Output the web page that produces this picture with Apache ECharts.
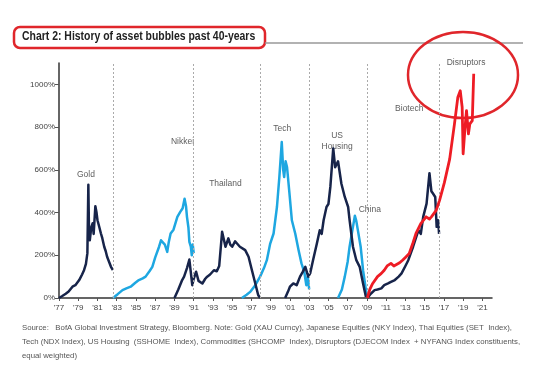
<!DOCTYPE html>
<html>
<head>
<meta charset="utf-8">
<script src="https://cdn.jsdelivr.net/npm/echarts@6/dist/echarts.min.js"></script>
<style>
  html, body { margin: 0; padding: 0; background: #fff; }
  #chart { width: 542px; height: 376px; }
</style>
</head>
<body>
<div id="chart"></div>
<script>
// [year, % gain]
const gold = [[1977.0,0],[1977.3,8],[1977.7,20],[1978.0,30],[1978.4,53],[1978.7,60],[1979.1,84],[1979.4,110],[1979.6,130],[1979.8,160],[1979.95,210],[1980.05,530],[1980.12,300],[1980.2,270],[1980.35,330],[1980.5,350],[1980.6,300],[1980.78,430],[1980.9,400],[1981.0,364],[1981.2,330],[1981.35,303],[1981.5,280],[1981.7,240],[1981.85,220],[1982.0,193],[1982.2,170],[1982.4,146],[1982.6,131]]
const nikkei = [[1982.6,0],[1983.1,18],[1983.6,37],[1984.0,45],[1984.45,53],[1984.9,70],[1985.3,84],[1985.7,92],[1986.0,100],[1986.4,125],[1986.7,146],[1987.0,190],[1987.4,240],[1987.6,270],[1987.8,279],[1988.0,250],[1988.25,216],[1988.4,260],[1988.6,302],[1988.9,320],[1989.3,380],[1989.6,403],[1989.85,420],[1990.05,465],[1990.2,430],[1990.3,380],[1990.45,330],[1990.55,263],[1990.7,240],[1990.8,200],[1990.9,250],[1991.0,210]]
const thailand = [[1989.0,0],[1989.4,40],[1989.8,84],[1990.0,100],[1990.3,140],[1990.55,180],[1990.7,120],[1990.85,60],[1991.0,90],[1991.25,123],[1991.5,80],[1991.9,68],[1992.2,90],[1992.4,100],[1992.7,110],[1993.1,130],[1993.4,125],[1993.65,150],[1993.95,310],[1994.15,270],[1994.3,240],[1994.6,279],[1994.8,250],[1995.0,240],[1995.3,265],[1995.5,255],[1995.8,240],[1996.0,232],[1996.35,224],[1996.7,193],[1997.05,130],[1997.4,68],[1997.7,14],[1997.9,0]]
const tech = [[1996.0,0],[1996.5,15],[1996.9,30],[1997.4,60],[1997.9,100],[1998.3,140],[1998.6,177],[1998.95,255],[1999.3,302],[1999.65,426],[1999.9,566],[2000.15,730],[2000.3,600],[2000.4,566],[2000.55,640],[2000.7,612],[2000.95,490],[2001.2,364],[2001.55,302],[2001.9,224],[2002.2,162],[2002.5,120],[2002.7,60],[2002.85,100],[2003.0,40]]
const usHousing = [[2000.5,0],[2000.8,30],[2001.0,53],[2001.35,68],[2001.7,60],[2002.05,100],[2002.3,120],[2002.6,146],[2002.9,100],[2003.1,115],[2003.4,177],[2003.8,255],[2004.1,317],[2004.3,300],[2004.5,364],[2004.8,426],[2005.0,440],[2005.2,520],[2005.5,700],[2005.7,612],[2006.0,640],[2006.35,535],[2006.7,473],[2007.05,426],[2007.2,364],[2007.55,240],[2007.9,177],[2008.25,146],[2008.6,68],[2008.9,5]]
const china = [[2006.0,0],[2006.4,40],[2006.7,100],[2007.0,170],[2007.2,240],[2007.5,320],[2007.75,385],[2007.9,360],[2008.1,364],[2008.35,240],[2008.6,130],[2008.9,37],[2009.0,15]]
const biotech = [[2009.05,0],[2009.4,20],[2009.8,37],[2010.1,40],[2010.5,45],[2010.8,60],[2011.2,68],[2011.5,75],[2011.9,84],[2012.3,100],[2012.6,115],[2013.0,150],[2013.3,177],[2013.8,240],[2014.35,317],[2014.6,300],[2014.85,380],[2015.2,442],[2015.5,584],[2015.7,500],[2015.85,490],[2016.1,473],[2016.25,333],[2016.4,364],[2016.5,300]]
const disruptors = [[2009.05,0],[2009.3,40],[2009.6,68],[2010.1,100],[2010.5,115],[2010.8,130],[2011.1,150],[2011.5,162],[2011.8,150],[2012.0,146],[2012.4,165],[2012.7,177],[2013.0,190],[2013.4,208],[2013.8,260],[2014.1,302],[2014.6,348],[2015.15,380],[2015.5,370],[2015.7,380],[2016.2,410],[2016.55,457],[2017.05,540],[2017.6,650],[2018.1,815],[2018.45,940],[2018.7,970],[2018.9,893],[2019.0,675],[2019.2,800],[2019.35,877],[2019.55,768],[2019.7,815],[2019.95,830],[2020.1,1050]]

// vertical dotted separators (years)
const dividers = [1982.6, 1991.0, 1997.9, 2003.0, 2009.0, 2016.5]

// axis ticks
const xTickYears = [1977,1979,1981,1983,1985,1987,1989,1991,1993,1995,1997,1999,2001,2003,2005,2007,2009,2011,2013,2015,2017,2019,2021]
const yTicks = [0, 200, 400, 600, 800, 1000]

// bubble names placed at [year, %]
const notes = [['Gold',1979.8,579],['Nikkei',1989.84,733],['Thailand',1994.3,537],['Tech',2000.2,793],['US\nHousing',2005.9,733],['China',2009.3,415],['Biotech',2013.4,887],['Disruptors',2019.3,1101]]

const NAVY = '#17244a'
const LIGHT = '#1ea7e1'
const RED = '#ee1c25'

const chart = echarts.init(document.getElementById('chart'))

const line = (name, data, color, width, z) => ({
  name,
  type: 'line',
  data,
  symbol: 'none',
  z,
  lineStyle: { color, width, join: 'round' },
  itemStyle: { color },
})

chart.setOption({
  animation: false,
  backgroundColor: '#fff',
  textStyle: { fontFamily: 'Liberation Sans, Arial, sans-serif' },
  grid: { left: 59, right: 50, top: 63, bottom: 78 },
  xAxis: {
    type: 'value',
    min: 1977,
    max: 2022,
    axisLine: { lineStyle: { color: '#333', width: 1.5 } },
    axisTick: { customValues: xTickYears, length: 3, lineStyle: { color: '#555' } },
    axisLabel: {
      customValues: xTickYears,
      color: '#444',
      fontSize: 8,
      margin: 6,
      formatter: v => "'" + String(v % 100).padStart(2, '0'),
    },
    splitLine: { show: false },
  },
  yAxis: {
    type: 'value',
    min: 0,
    max: 1100,
    axisLine: { show: true, lineStyle: { color: '#333', width: 1.5 } },
    axisTick: { show: true, customValues: yTicks, length: 4, lineStyle: { color: '#555' } },
    axisLabel: { customValues: yTicks, color: '#444', fontSize: 8, margin: 4, formatter: v => v + '%' },
    splitLine: { show: false },
  },
  series: [
    {
      type: 'line',
      data: [],
      markLine: {
        silent: true,
        symbol: 'none',
        label: { show: false },
        lineStyle: { color: '#aaa', type: [2, 2], width: 1 },
        data: dividers.map(y => ({ xAxis: y })),
      },
    },
    line('Gold', gold, NAVY, 2.5, 3),
    line('Nikkei', nikkei, LIGHT, 2.5, 3),
    line('Thailand', thailand, NAVY, 2.5, 4),
    line('Tech', tech, LIGHT, 2.5, 3),
    line('US Housing', usHousing, NAVY, 2.5, 4),
    line('China', china, LIGHT, 2.5, 3),
    line('Biotech', biotech, NAVY, 2.5, 4),
    line('Disruptors', disruptors, RED, 2.8, 5),
    {
      type: 'scatter',
      symbolSize: 0,
      clip: false,
      silent: true,
      data: notes.map(n => ({ value: [n[1], n[2]], name: n[0] })),
      label: {
        show: true,
        position: 'inside',
        formatter: p => p.name,
        color: '#333',
        fontSize: 8.5,
        lineHeight: 11,
        align: 'center',
      },
    },
  ],
  graphic: [
    {
      type: 'rect',
      shape: { x: 14, y: 27, width: 251, height: 21, r: 6 },
      style: { fill: 'none', stroke: '#e0262b', lineWidth: 2.5 },
    },
    {
      type: 'line',
      shape: { x1: 265, y1: 43, x2: 523, y2: 43 },
      style: { stroke: '#999', lineWidth: 1.5 },
    },
    {
      type: 'text',
      x: 22,
      y: 37,
      scaleX: 0.87,
      style: {
        text: 'Chart 2: History of asset bubbles past 40-years',
        font: 'bold 12px "Liberation Sans", Arial, sans-serif',
        fill: '#222',
        verticalAlign: 'middle',
      },
    },
    {
      type: 'ellipse',
      shape: { cx: 463, cy: 75, rx: 55, ry: 43 },
      style: { fill: 'none', stroke: '#e0262b', lineWidth: 2.5 },
    },
    {
      type: 'text',
      x: 22,
      y: 321,
      style: {
        text: 'Source:   BofA Global Investment Strategy, Bloomberg. Note: Gold (XAU Curncy), Japanese Equities (NKY Index), Thai Equities (SET  Index),\nTech (NDX Index), US Housing  (SSHOME  Index), Commodities (SHCOMP  Index), Disruptors (DJECOM Index  + NYFANG Index constituents,\nequal weighted)',
        font: '7.8px "Liberation Sans", Arial, sans-serif',
        lineHeight: 14,
        fill: '#555',
      },
    },
  ],
})
</script>
</body>
</html>
